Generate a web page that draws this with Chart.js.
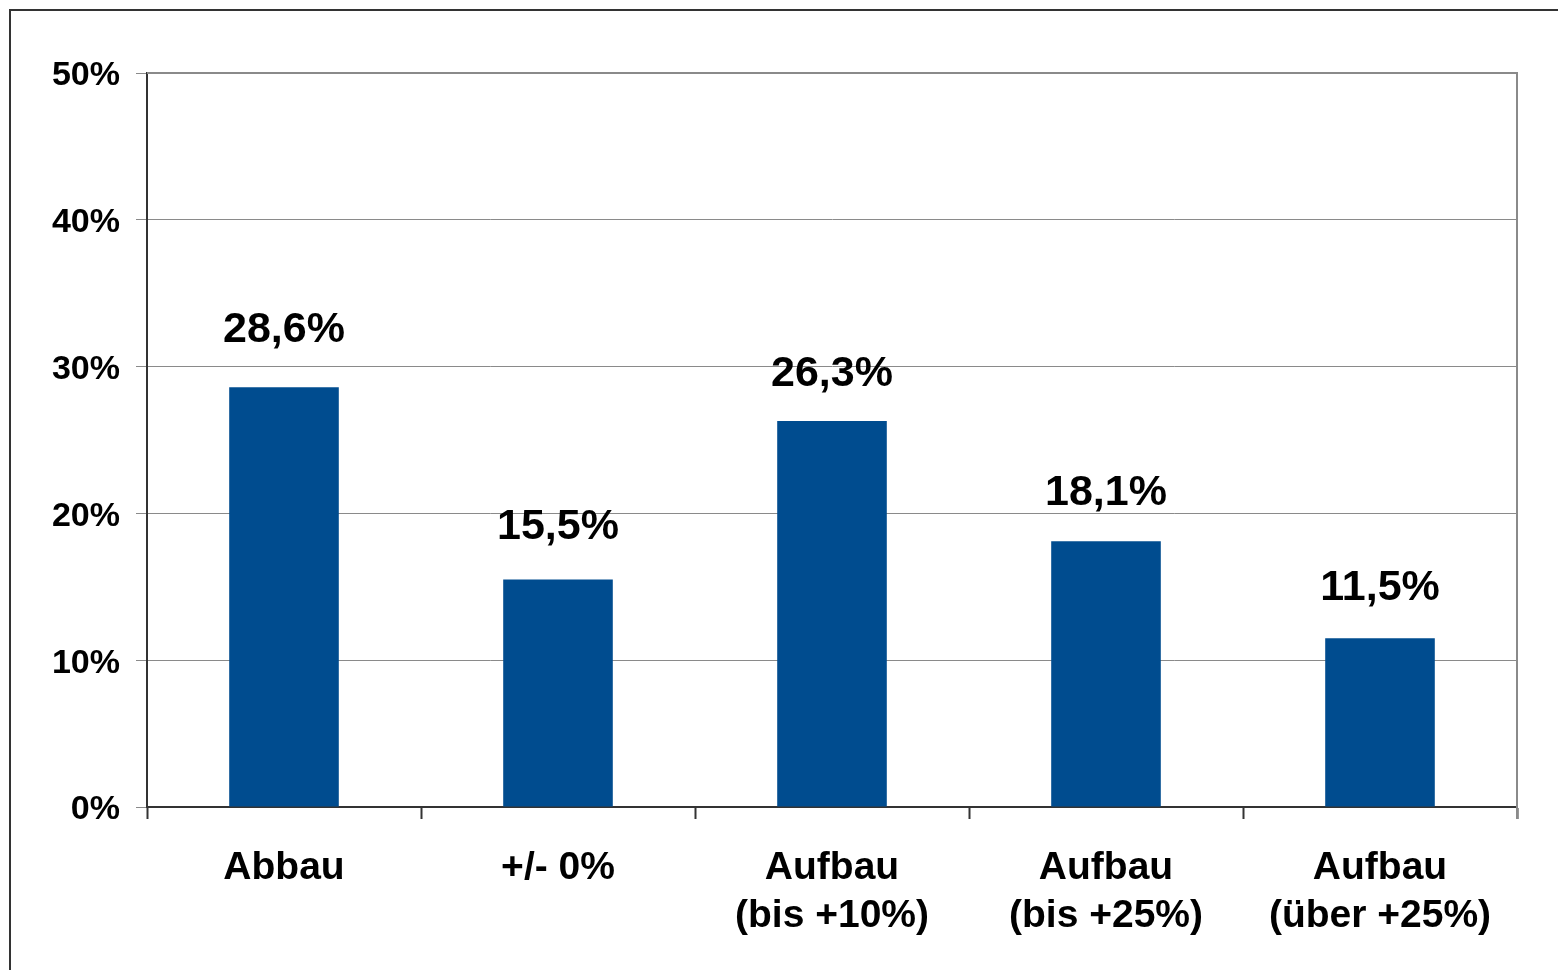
<!DOCTYPE html>
<html>
<head>
<meta charset="utf-8">
<title>Abbau / Aufbau</title>
<script src="https://cdn.jsdelivr.net/npm/chart.js@4.4.1/dist/chart.umd.min.js"></script>
<style>
  html, body { margin: 0; padding: 0; background: #fff; overflow: hidden; }
  canvas { display: block; }
</style>
</head>
<body>
<canvas id="barChart" width="1558" height="970"></canvas>
<script>
const categories = [['Abbau'], ['+/- 0%'], ['Aufbau', '(bis +10%)'], ['Aufbau', '(bis +25%)'], ['Aufbau', '(über +25%)']];
const shares = [28.6, 15.5, 26.3, 18.1, 11.5];
const yTicks = [0, 10, 20, 30, 40, 50];

const barColor = '#004c8f';
const gridGray = '#8a8a8a';
const axisDark = '#333333';
// gap in px between bar top and label baseline (labels were nudged by hand in the original)
const labelGap = [45, 40, 35, 36, 38];

Chart.defaults.font.family = '"Liberation Sans", Arial, sans-serif';
Chart.defaults.color = '#000';

// outer frame, top/right plot border and the value labels over the bars
const framePlugin = {
  id: 'frame',
  beforeDraw(chart) {
    const ctx = chart.ctx;
    ctx.save();
    ctx.fillStyle = '#fff';
    ctx.fillRect(0, 0, chart.width, chart.height);
    ctx.strokeStyle = axisDark;
    ctx.lineWidth = 2;
    ctx.beginPath();
    ctx.moveTo(10, chart.height);
    ctx.lineTo(10, 10);
    ctx.lineTo(chart.width, 10);
    ctx.stroke();
    ctx.restore();
  },
  afterDraw(chart) {
    const ctx = chart.ctx;
    const area = chart.chartArea;
    ctx.save();
    ctx.strokeStyle = gridGray;
    ctx.lineWidth = 2;
    ctx.beginPath();
    ctx.moveTo(area.left, area.top);
    ctx.lineTo(area.right, area.top);
    ctx.lineTo(area.right, area.bottom + 12);
    ctx.stroke();

    ctx.fillStyle = '#000';
    ctx.font = 'bold 43px "Liberation Sans", Arial, sans-serif';
    ctx.textAlign = 'center';
    ctx.textBaseline = 'alphabetic';
    chart.getDatasetMeta(0).data.forEach((bar, i) => {
      const txt = shares[i].toFixed(1).replace('.', ',') + '%';
      ctx.fillText(txt, bar.x, bar.y - labelGap[i]);
    });
    ctx.restore();
  }
};

new Chart(document.getElementById('barChart'), {
  type: 'bar',
  data: {
    labels: categories,
    datasets: [{
      data: shares,
      backgroundColor: barColor,
      borderWidth: 0,
      categoryPercentage: 1,
      barPercentage: 0.4
    }]
  },
  options: {
    responsive: false,
    animation: false,
    layout: { padding: { left: 0, top: 73, right: 41, bottom: 0 } },
    plugins: {
      legend: { display: false },
      tooltip: { enabled: false }
    },
    scales: {
      x: {
        afterFit(scale) { scale.height = 163; },
        grid: {
          offset: true,
          drawOnChartArea: false,
          drawTicks: true,
          tickLength: 12,
          tickColor: axisDark,
          tickWidth: 2
        },
        border: { color: axisDark, width: 2 },
        ticks: {
          padding: 25,
          maxRotation: 0,
          font: { size: 39, weight: 'bold', lineHeight: '48px' }
        }
      },
      y: {
        min: 0,
        max: 50,
        afterFit(scale) { scale.width = 147; },
        afterBuildTicks(scale) { scale.ticks = yTicks.map(v => ({ value: v })); },
        grid: {
          color: gridGray,
          lineWidth: 1,
          drawTicks: true,
          tickLength: 11,
          tickColor: gridGray
        },
        border: { color: axisDark, width: 2 },
        ticks: {
          padding: 16,
          labelOffset: 3,
          font: { size: 34, weight: 'bold' },
          callback: v => v + '%'
        }
      }
    }
  },
  plugins: [framePlugin]
});
</script>
</body>
</html>
